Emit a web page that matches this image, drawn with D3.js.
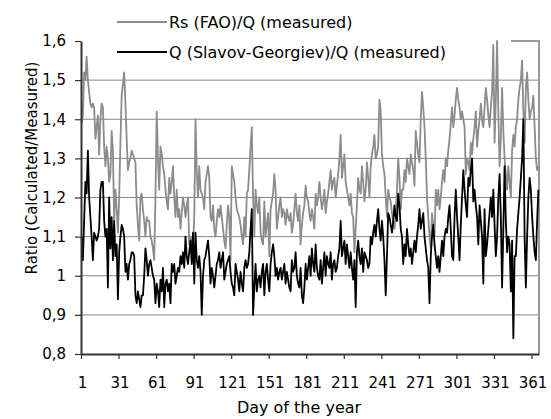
<!DOCTYPE html>
<html>
<head>
<meta charset="utf-8">
<script src="https://cdn.jsdelivr.net/npm/d3@7"></script>
<style>
  body { margin: 0; background: #fff; }
  text { font-family: "DejaVu Sans", Verdana, sans-serif; fill: #000; }
</style>
</head>
<body>
<svg id="chart" width="551" height="419"></svg>
<script>
// daily ratios, day 1..366
var rsFao = [
  1.39,1.41,1.52,1.50,1.56,1.50,1.47,1.44,1.43,1.44,
  1.43,1.35,1.38,1.41,1.31,1.40,1.44,1.43,1.33,1.28,
  1.33,1.30,1.24,1.26,1.37,1.32,1.14,1.22,1.17,1.11,
  1.20,1.34,1.46,1.49,1.52,1.44,1.35,1.27,1.29,1.30,
  1.32,1.31,1.30,1.29,1.18,1.13,1.09,1.20,1.21,1.17,
  1.14,1.10,1.15,1.14,1.14,1.10,1.09,1.07,1.04,1.20,
  1.42,1.30,1.22,1.33,1.31,1.28,1.26,1.22,1.19,1.17,
  1.25,1.21,1.24,1.28,1.20,1.15,1.22,1.15,1.17,1.12,
  1.16,1.20,1.18,1.15,1.18,1.20,1.08,1.10,1.09,1.07,
  1.15,1.40,1.27,1.20,1.28,1.22,1.21,1.20,1.17,1.24,
  1.26,1.28,1.25,1.15,1.14,1.18,1.12,1.10,1.14,1.17,
  1.15,1.18,1.15,1.12,1.09,1.07,1.13,1.18,1.15,1.04,
  1.28,1.26,1.24,1.20,1.17,1.16,1.15,1.13,1.10,1.08,
  1.15,1.10,1.21,1.22,1.27,1.33,1.38,1.20,1.10,1.22,
  1.18,1.16,1.20,1.11,1.09,1.08,1.19,1.10,1.13,1.16,
  1.05,1.17,1.19,1.21,1.26,1.22,1.12,1.15,1.18,1.20,
  1.15,1.17,1.16,1.13,1.17,1.15,1.14,1.16,1.11,1.13,
  1.17,1.21,1.16,1.14,1.18,1.08,1.13,1.16,1.18,1.23,
  1.20,1.19,1.16,1.14,1.17,1.15,1.12,1.21,1.18,1.20,
  1.24,1.20,1.17,1.19,1.22,1.16,1.19,1.21,1.24,1.27,
  1.22,1.24,1.25,1.20,1.23,1.26,1.30,1.36,1.25,1.28,
  1.31,1.24,1.22,1.20,1.18,1.21,1.16,1.15,1.06,1.12,
  1.18,1.25,1.22,1.21,1.28,1.24,1.19,1.22,1.29,1.25,
  1.20,1.28,1.31,1.33,1.36,1.30,1.31,1.33,1.45,1.42,
  1.31,1.28,1.26,1.20,1.15,1.22,1.20,1.19,1.16,1.14,
  1.12,1.15,1.22,1.30,1.25,1.17,1.22,1.22,1.27,1.24,
  1.30,1.28,1.26,1.31,1.29,1.27,1.23,1.37,1.34,1.31,
  1.29,1.40,1.47,1.43,1.38,1.30,1.20,1.15,1.10,1.07,
  1.16,1.13,1.10,1.22,1.18,1.22,1.17,1.20,1.24,1.27,
  1.24,1.30,1.28,1.32,1.35,1.39,1.43,1.38,1.41,1.45,
  1.48,1.45,1.43,1.40,1.42,1.40,1.38,1.26,1.30,1.29,
  1.27,1.34,1.31,1.35,1.38,1.42,1.33,1.37,1.40,1.44,
  1.40,1.38,1.43,1.48,1.45,1.41,1.38,1.43,1.47,1.59,
  1.34,1.45,1.60,1.42,1.28,1.35,1.48,1.37,1.30,1.26,
  1.22,1.28,1.24,1.20,1.32,1.36,1.33,1.38,1.40,1.45,
  1.48,1.50,1.55,1.42,1.34,1.48,1.52,1.45,1.40,1.42,
  1.43,1.46,1.38,1.30,1.27,1.28
];

var qSlavov = [
  1.10,1.04,1.14,1.24,1.21,1.32,1.20,1.15,1.10,1.04,
  1.11,1.10,1.09,1.10,1.12,1.22,1.24,1.24,1.14,1.10,
  1.12,0.97,1.20,1.07,1.15,1.04,1.14,1.05,1.08,0.94,
  1.06,1.10,1.13,1.12,1.10,1.01,1.03,0.99,1.03,1.04,
  1.06,1.06,1.05,0.95,0.93,0.96,0.94,0.92,0.95,0.95,
  1.00,1.07,1.04,1.00,1.03,1.04,1.02,1.00,0.99,0.93,
  0.98,0.96,0.92,0.99,0.96,1.02,0.92,0.98,0.99,0.96,
  0.98,0.93,1.03,1.01,1.03,0.98,1.00,1.02,1.01,1.05,
  1.03,1.06,1.02,1.10,1.05,1.03,1.06,1.09,1.03,1.11,
  0.98,1.11,1.04,1.02,1.05,1.01,0.90,1.00,1.04,1.05,
  1.07,1.09,1.05,0.98,1.02,1.00,0.97,1.00,1.03,1.04,
  1.06,1.02,1.04,1.06,0.99,1.01,1.03,1.04,1.05,1.01,
  0.98,0.97,0.95,1.03,1.01,0.99,0.96,1.01,0.98,0.96,
  1.02,1.04,1.02,1.03,1.06,1.12,1.17,0.90,0.97,1.03,
  0.96,0.99,1.00,0.97,1.01,1.03,0.95,1.01,1.03,0.99,
  0.96,1.03,1.06,1.08,1.05,1.00,1.02,0.99,1.01,1.02,
  0.99,1.01,1.03,0.98,1.01,0.99,0.97,0.96,1.04,1.01,
  1.02,1.06,1.00,0.98,0.97,1.02,0.95,0.93,0.97,1.03,
  0.99,1.02,1.05,1.00,1.07,1.03,1.01,1.08,1.02,1.00,
  0.99,1.04,0.98,1.02,1.06,1.00,1.05,1.03,1.02,1.06,
  0.99,1.03,1.04,1.01,1.02,1.05,1.07,1.14,1.05,1.07,
  1.09,1.03,1.08,1.05,1.02,1.06,1.02,0.99,1.04,0.92,
  1.06,1.09,1.05,1.03,1.07,1.01,1.06,1.05,1.04,1.02,
  1.03,1.10,1.08,1.11,1.13,1.10,1.14,1.17,1.12,1.09,
  1.14,1.10,1.04,0.95,1.05,1.16,1.15,1.13,1.11,1.14,
  1.18,1.15,1.14,1.21,1.18,1.12,1.10,1.03,1.08,1.05,
  1.12,1.08,1.05,1.07,1.03,1.06,1.09,1.06,1.10,1.13,
  1.17,1.12,1.14,1.16,1.10,1.07,1.04,1.02,0.93,1.05,
  1.10,1.13,1.08,1.05,1.02,1.05,1.01,1.05,1.09,1.05,
  1.10,1.12,1.11,1.15,1.18,1.12,1.05,1.04,1.15,1.22,
  1.15,1.10,1.04,1.13,1.20,1.27,1.22,1.18,1.15,1.25,
  1.23,1.27,1.30,1.19,1.22,1.18,1.15,1.08,1.18,1.14,
  1.10,0.98,1.17,1.05,1.08,1.12,1.16,1.20,1.15,1.22,
  1.13,1.05,1.10,1.20,1.26,1.15,0.97,1.12,1.28,1.14,
  1.06,1.10,1.08,0.96,1.09,0.84,1.05,1.05,1.12,1.16,
  1.20,1.25,1.30,1.40,1.10,0.97,1.10,1.20,1.25,1.22,
  1.15,1.10,1.06,1.04,1.14,1.22
];

var tickDays = [1, 31, 61, 91, 121, 151, 181, 211, 241, 271, 301, 331, 361];
var yTicks = [0.8, 0.9, 1.0, 1.1, 1.2, 1.3, 1.4, 1.5, 1.6];
var seriesNames = ["Rs (FAO)/Q (measured)", "Q (Slavov-Georgiev)/Q (measured)"];
var seriesColors = ["#8c8c8c", "#000000"];

var svg = d3.select("#chart"),
    margin = {top: 41, right: 12, bottom: 65, left: 81},
    width = +svg.attr("width") - margin.left - margin.right,
    height = +svg.attr("height") - margin.top - margin.bottom;

var x = d3.scaleLinear().domain([0.5, rsFao.length + 0.5]).range([0, width]),
    y = d3.scaleLinear().domain([0.8, 1.6]).range([height, 0]);

var g = svg.append("g")
    .attr("transform", "translate(" + margin.left + "," + margin.top + ")");

var commaFmt = function(d) { return (+d.toFixed(1)).toString().replace(".", ","); };

// gridlines
g.append("g").selectAll("line")
  .data(yTicks.filter(function(d) { return d > 0.85 && d < 1.55; }))
  .enter().append("line")
    .attr("x1", 0).attr("x2", width)
    .attr("y1", function(d) { return y(d); })
    .attr("y2", function(d) { return y(d); })
    .attr("stroke", "#858585").attr("stroke-width", 1);

// partial plot frame (right and top-right)
g.append("path")
    .attr("d", "M" + (width - 28) + ",0H" + width + "V" + height)
    .attr("fill", "none").attr("stroke", "#999").attr("stroke-width", 2);

// series
var line = d3.line()
    .x(function(d, i) { return x(i + 1); })
    .y(function(d) { return y(d); });

[rsFao, qSlavov].forEach(function(s, i) {
  g.append("path")
    .datum(s)
    .attr("fill", "none")
    .attr("stroke", seriesColors[i])
    .attr("stroke-width", 1.8)
    .attr("stroke-linejoin", "round")
    .attr("d", line);
});

// axes
var yAxis = g.append("g")
    .call(d3.axisLeft(y).tickValues(yTicks).tickSize(6).tickSizeOuter(0)
      .tickPadding(9).tickFormat(commaFmt));

var xAxis = g.append("g")
    .attr("transform", "translate(0," + height + ")")
    .call(d3.axisBottom(x).tickValues(tickDays.map(function(d) { return d - 0.5; }))
      .tickSize(5).tickSizeOuter(0).tickPadding(18)
      .tickFormat(function(d) { return d + 0.5; }));

[yAxis, xAxis].forEach(function(a) {
  a.select(".domain").attr("stroke", "#333").attr("stroke-width", 2);
  a.selectAll(".tick line").attr("stroke", "#333").attr("stroke-width", 1.2);
  a.selectAll(".tick text").attr("font-size", 15).attr("font-family", null);
});
xAxis.selectAll(".tick text").attr("x", 1);

// axis titles
svg.append("text")
    .attr("transform", "translate(32," + 168 + ") rotate(-90)")
    .attr("text-anchor", "middle")
    .attr("dominant-baseline", "central")
    .attr("font-size", 15)
    .text("Ratio (Calculated/Measured)");

svg.append("text")
    .attr("x", 299).attr("y", 413)
    .attr("text-anchor", "middle")
    .attr("font-size", 16)
    .text("Day of the year");

// legend
var legend = svg.append("g").selectAll("g")
  .data(seriesNames)
  .enter().append("g")
    .attr("transform", function(d, i) { return "translate(117," + (22 + i * 30) + ")"; });

legend.append("line")
    .attr("x1", 0).attr("x2", 50)
    .attr("stroke", function(d, i) { return seriesColors[i]; })
    .attr("stroke-width", 2);

legend.append("text")
    .attr("x", 52)
    .attr("dominant-baseline", "central")
    .attr("font-size", 16)
    .text(function(d) { return d; });
</script>
</body>
</html>
